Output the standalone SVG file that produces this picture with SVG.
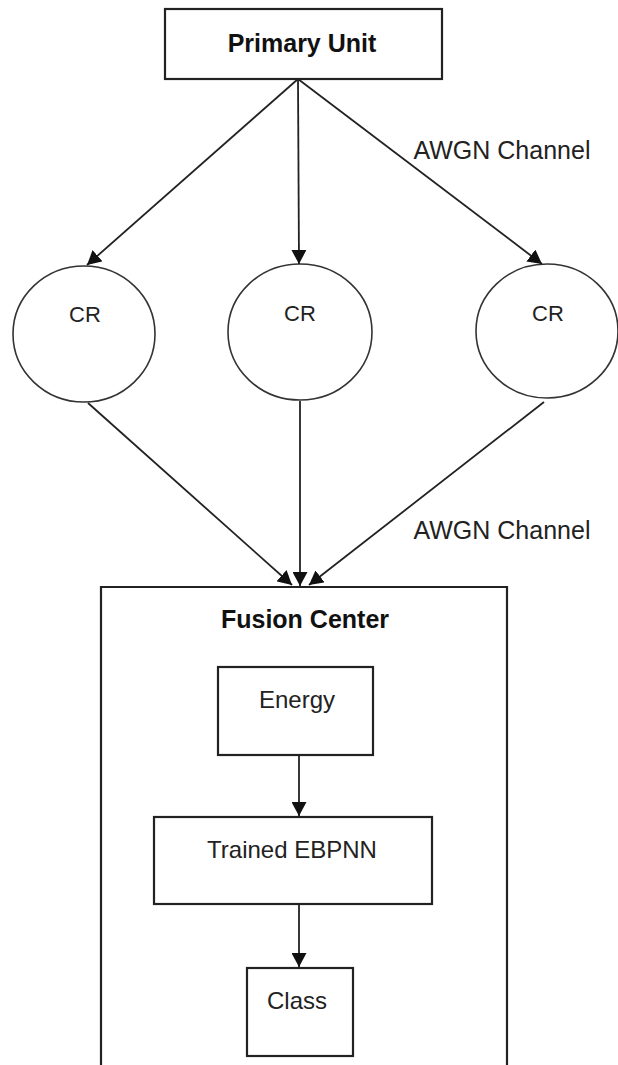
<svg xmlns="http://www.w3.org/2000/svg" width="618" height="1065" viewBox="0 0 618 1065">
  <defs>
    <marker id="arr" markerUnits="userSpaceOnUse" markerWidth="14" markerHeight="15" viewBox="0 0 14 15" refX="14" refY="7.5" orient="auto">
      <path d="M0,0 L14,7.5 L0,15 z" fill="#111"/>
    </marker>
    <style>
      .box{fill:#fff;stroke:#222;stroke-width:2.2}
      .circ{fill:#fff;stroke:#333;stroke-width:1.6}
      .t{font-family:"Liberation Sans",Arial,sans-serif;font-size:24px;fill:#222;text-anchor:middle}
      .b{font-family:"Liberation Sans",Arial,sans-serif;font-size:25px;font-weight:bold;fill:#111;text-anchor:middle}
      .ln{stroke:#222;stroke-width:1.8;fill:none}
    </style>
  </defs>
  <rect width="618" height="1065" fill="#fff"/>

  <g id="primary-unit">
    <rect class="box" x="165" y="9" width="277" height="70"/>
    <text class="b" x="302" y="52">Primary Unit</text>
  </g>

  <g id="cr1">
    <ellipse class="circ" cx="84" cy="334" rx="71" ry="68"/>
    <text class="t" x="85" y="322" font-size="22" style="font-size:22px">CR</text>
  </g>
  <g id="cr2">
    <ellipse class="circ" cx="300" cy="332" rx="72" ry="68"/>
    <text class="t" x="300" y="321" style="font-size:22px">CR</text>
  </g>
  <g id="cr3">
    <ellipse class="circ" cx="547" cy="331" rx="71" ry="67"/>
    <text class="t" x="548" y="321" style="font-size:22px">CR</text>
  </g>

  <g id="fusion-center">
    <path class="box" d="M101,1070 L101,587 L507,587 L507,1070" style="fill:none"/>
    <text class="b" x="305" y="628">Fusion Center</text>
  </g>

  <g id="energy">
    <rect class="box" x="218" y="667" width="155" height="88"/>
    <text class="t" x="297" y="708">Energy</text>
  </g>
  <g id="trained-ebpnn">
    <rect class="box" x="154" y="817" width="278" height="87"/>
    <text class="t" x="292" y="858">Trained EBPNN</text>
  </g>
  <g id="class">
    <rect class="box" x="247" y="968" width="106" height="88"/>
    <text class="t" x="297" y="1009">Class</text>
  </g>

  <g id="labels">
    <text class="t" x="502" y="159" style="font-size:25px">AWGN Channel</text>
    <text class="t" x="502" y="539" style="font-size:25px">AWGN Channel</text>
  </g>

  <g id="connectors">
    <line class="ln" x1="298" y1="79" x2="87" y2="265" marker-end="url(#arr)"/>
    <line class="ln" x1="298" y1="79" x2="299" y2="264" marker-end="url(#arr)"/>
    <line class="ln" x1="298" y1="79" x2="542" y2="264" marker-end="url(#arr)"/>
    <line class="ln" x1="88" y1="403" x2="292" y2="585" marker-end="url(#arr)"/>
    <line class="ln" x1="300" y1="401" x2="300" y2="586" marker-end="url(#arr)"/>
    <line class="ln" x1="544" y1="402" x2="309" y2="585" marker-end="url(#arr)"/>
    <line class="ln" x1="299" y1="755" x2="299" y2="816" marker-end="url(#arr)"/>
    <line class="ln" x1="299" y1="904" x2="299" y2="967" marker-end="url(#arr)"/>
  </g>
</svg>
